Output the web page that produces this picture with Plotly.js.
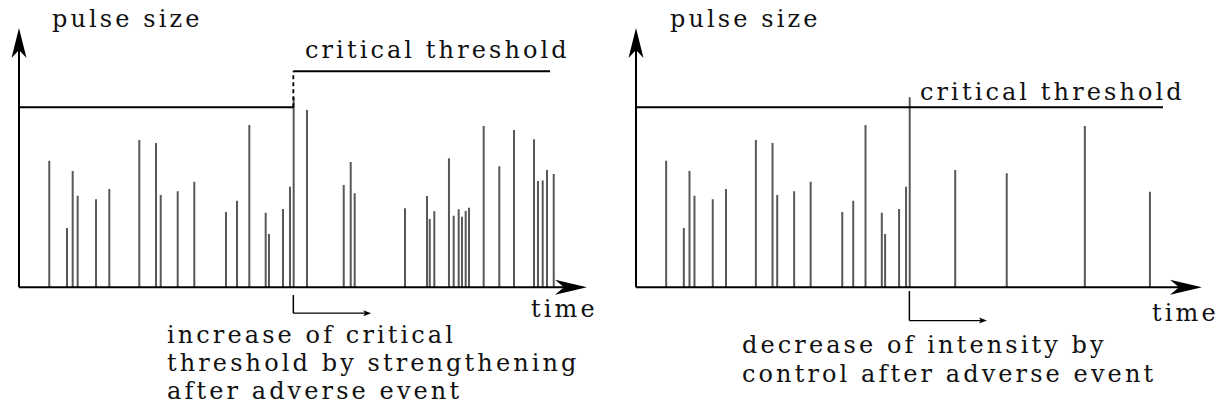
<!DOCTYPE html>
<html><head><meta charset="utf-8">
<script src="https://cdn.plot.ly/plotly-3.0.1.min.js"></script>
<style>
html,body{margin:0;padding:0;background:#fff;}
.annotation-text{letter-spacing:3.1px;}
</style></head><body>
<div id="chart" style="width:1224px;height:408px;"></div>
<script>
// ---------- data ----------
const timesBeforeEvent = [5.33, 8.45, 9.45, 10.33, 13.56, 15.90, 21.18, 24.12, 24.95, 27.94, 30.86, 36.44, 38.38, 40.55, 43.43, 44.01, 46.48, 47.71, 48.36];
const sizesBeforeEvent = [70.3, 32.9, 64.6, 50.9, 48.9, 54.6, 81.8, 80.2, 51.3, 53.3, 58.7, 41.8, 48.1, 90.2, 41.4, 29.6, 43.5, 55.9, 105.6];
const leftTimesAfter = [50.70, 57.17, 58.40, 59.10, 67.96, 71.83, 72.31, 73.12, 75.70, 76.53, 77.41, 77.99, 78.64, 79.23, 81.81, 84.56, 87.15, 90.67, 91.37, 92.20, 92.96, 94.14];
const leftSizesAfter = [98.5, 56.8, 69.6, 52.2, 43.9, 50.7, 37.9, 42.2, 71.7, 39.8, 43.3, 39.2, 42.4, 44.2, 89.6, 67.2, 87.4, 82.2, 59.1, 59.4, 65.2, 62.9];
const rightTimesAfter = [56.4, 65.5, 79.3, 90.8];
const rightSizesAfter = [65.2, 63.3, 89.6, 53.1];
const eventTime = 48.3;
const thresholdBefore = 100;
const thresholdRaised = 120;
const thresholdEndLeft = 93.5;
const thresholdEndRight = 93.1;
const eventArrowEnd = 62;
const axisXEnd = 100;
const axisYEnd = 144;

const yLabel = "pulse size";
const xLabel = "time";
const thresholdLabel = "critical threshold";
const leftNote = ["increase of critical", "threshold by strengthening", "after adverse event"];
const rightNote = ["decrease of intensity by", "control after adverse event"];

// ---------- helpers ----------
const W = 1224, H = 408;
const px = x => x / W;
const py = y => 1 - y / H;
const FONT = {family: "DejaVu Serif", size: 24, color: "#111"};
const SPIKE = {color: "#585858", width: 2};

function spikeTrace(ts, hs, xa, ya) {
  const x = [], y = [];
  ts.forEach((t, i) => { x.push(t, t, null); y.push(0, hs[i], null); });
  return {type: "scatter", mode: "lines", x, y, xaxis: xa, yaxis: ya,
          line: SPIKE, hoverinfo: "skip", showlegend: false};
}

const traces = [
  spikeTrace(timesBeforeEvent, sizesBeforeEvent, "x", "y"),
  spikeTrace(leftTimesAfter, leftSizesAfter, "x", "y"),
  spikeTrace(timesBeforeEvent, sizesBeforeEvent, "x2", "y2"),
  spikeTrace(rightTimesAfter, rightSizesAfter, "x2", "y2")
];

const BLACK = "#000";
function axisShapes(xr, yr) {
  return [
    {type: "line", xref: xr, yref: yr, x0: 0, x1: axisXEnd - 3, y0: 0, y1: 0, line: {color: BLACK, width: 2}},
    {type: "line", xref: xr, yref: yr, x0: 0, x1: 0, y0: 0, y1: axisYEnd - 10, line: {color: BLACK, width: 2}},
    {type: "path", xref: xr, yref: yr, xsizemode: "pixel", ysizemode: "pixel",
     xanchor: axisXEnd, yanchor: 0, path: "M0,0 L-32,7.5 L-23,0 L-32,-7.5 Z",
     fillcolor: BLACK, line: {width: 0}},
    {type: "path", xref: xr, yref: yr, xsizemode: "pixel", ysizemode: "pixel",
     xanchor: 0, yanchor: axisYEnd, path: "M0,0 L-7.5,-30 L0,-22 L7.5,-30 Z",
     fillcolor: BLACK, line: {width: 0}}
  ];
}
function eventArrow(xr, yr, yTop, yBot) {
  return [
    {type: "line", xref: xr, yref: yr, x0: eventTime, x1: eventTime, y0: yTop, y1: yBot, line: {color: BLACK, width: 1.5}},
    {type: "line", xref: xr, yref: yr, x0: eventTime, x1: eventArrowEnd - 0.8, y0: yBot, y1: yBot, line: {color: BLACK, width: 1.3}},
    {type: "path", xref: xr, yref: yr, xsizemode: "pixel", ysizemode: "pixel",
     xanchor: eventArrowEnd, yanchor: yBot, path: "M0,0 L-8,3 L-6,0 L-8,-3 Z",
     fillcolor: BLACK, line: {width: 0}}
  ];
}

const shapes = [
  ...axisShapes("x", "y"),
  ...axisShapes("x2", "y2"),
  // left thresholds
  {type: "line", xref: "x", yref: "y", x0: 0, x1: eventTime, y0: thresholdBefore, y1: thresholdBefore, line: {color: BLACK, width: 2}},
  {type: "line", xref: "x", yref: "y", x0: eventTime, x1: eventTime, y0: thresholdBefore, y1: thresholdRaised, line: {color: BLACK, width: 1.8, dash: "4px,3px"}},
  {type: "line", xref: "x", yref: "y", x0: eventTime, x1: thresholdEndLeft, y0: thresholdRaised, y1: thresholdRaised, line: {color: BLACK, width: 2}},
  // right threshold
  {type: "line", xref: "x2", yref: "y2", x0: 0, x1: thresholdEndRight, y0: thresholdBefore, y1: thresholdBefore, line: {color: BLACK, width: 2}},
  ...eventArrow("x", "y", -4.3, -14.4),
  ...eventArrow("x2", "y2", -2.0, -18.5)
];

function txt(text, x, y) {
  return {text, xref: "paper", yref: "paper", x: px(x), y: py(y), xanchor: "left", yanchor: "middle",
          showarrow: false, font: FONT, align: "left"};
}
const annotations = [
  txt(yLabel, 50, 19), txt(yLabel, 668, 19),
  txt(thresholdLabel, 303, 50), txt(thresholdLabel, 918, 92),
  txt(xLabel, 529, 309), txt(xLabel, 1150, 313),
  txt(leftNote[0], 165, 335), txt(leftNote[1], 165, 363), txt(leftNote[2], 165, 391),
  txt(rightNote[0], 740, 345), txt(rightNote[1], 740, 374)
];

const yDom = [py(287.3 + 25 * 1.8), py(287.3 - 144 * 1.8)];
const hidden = {showgrid: false, zeroline: false, showticklabels: false, showline: false, ticks: "", fixedrange: true};
const layout = {
  width: W, height: H, margin: {l: 0, r: 0, t: 0, b: 0},
  paper_bgcolor: "#fff", plot_bgcolor: "rgba(0,0,0,0)", showlegend: false,
  xaxis: {...hidden, range: [-3, 100], domain: [px(19 - 3 * 5.68), px(587)]},
  yaxis: {...hidden, range: [-25, 144], domain: yDom},
  xaxis2: {...hidden, range: [-3, 100], domain: [px(636 - 3 * 5.66), px(1202)], anchor: "y2"},
  yaxis2: {...hidden, range: [-25, 144], domain: yDom, anchor: "x2"},
  shapes, annotations
};
Plotly.newPlot("chart", traces, layout, {staticPlot: true, displayModeBar: false});
</script>
</body></html>
